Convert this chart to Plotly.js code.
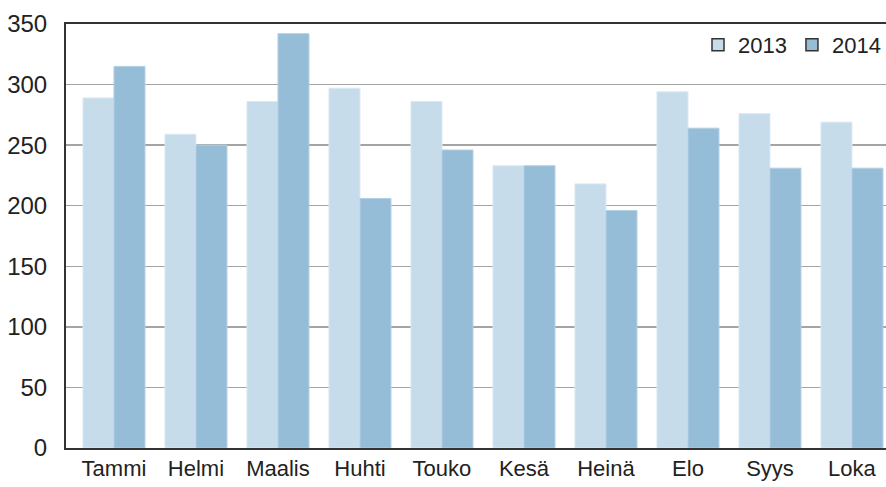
<!DOCTYPE html>
<html>
<head>
<meta charset="utf-8">
<script src="https://cdn.plot.ly/plotly-3.0.1.min.js"></script>
<style>html,body{margin:0;padding:0;background:#fff;}#chart{width:886px;height:487px;}</style>
</head>
<body>
<div id="chart"></div>
<script>
const categories = ["Tammi","Helmi","Maalis","Huhti","Touko","Kesä","Heinä","Elo","Syys","Loka"];
const values2013 = [289, 259, 286, 297, 286, 233, 218, 294, 276, 269];
const values2014 = [315, 250, 342, 206, 246, 233, 196, 264, 231, 231];
const seriesNames = ["2013", "2014"];
const yTicks = [0, 50, 100, 150, 200, 250, 300, 350];

const c2013 = "#c7dcea", c2014 = "#96bdd8";
const font = "Liberation Sans, Arial, sans-serif";

const data = [
  {type:"bar", x:categories, y:values2013, name:seriesNames[0], showlegend:false,
   marker:{color:c2013, line:{color:"#dae8f2", width:1}}, hoverinfo:"skip"},
  {type:"bar", x:categories, y:values2014, name:seriesNames[1], showlegend:false,
   marker:{color:c2014, line:{color:"#b2cfe3", width:1}}, hoverinfo:"skip"},
  {type:"bar", x:[categories[0]], y:[null], name:seriesNames[0], xaxis:"x2", yaxis:"y2",
   marker:{color:c2013, line:{color:"#333", width:1.5}}},
  {type:"bar", x:[categories[0]], y:[null], name:seriesNames[1], xaxis:"x2", yaxis:"y2",
   marker:{color:c2014, line:{color:"#333", width:1.5}}}
];

const layout = {
  width:886, height:487,
  margin:{l:66, r:0, t:24, b:39, pad:0},
  paper_bgcolor:"#fff", plot_bgcolor:"#fff",
  font:{family:font, size:24, color:"#222"},
  barmode:"group", bargap:0.244, bargroupgap:0,
  showlegend:true,
  legend:{orientation:"h", x:1, xanchor:"right", y:1, yanchor:"top",
          font:{family:font, size:22, color:"#222"}, bgcolor:"rgba(0,0,0,0)",
          traceorder:"normal"},
  xaxis:{type:"category", range:[-0.585, 9.415], showgrid:false, zeroline:false,
         showline:true, linecolor:"#333", linewidth:2, mirror:true,
         ticks:"", ticklabelstandoff:0, tickfont:{size:22, family:font, color:"#222"}},
  yaxis:{range:[0, 350], tickvals:yTicks, ticktext:yTicks.map(String),
         showgrid:true, gridcolor:"#a4a4a4", gridwidth:1.5, zeroline:false,
         showline:true, linecolor:"#333", linewidth:2,
         ticks:"", ticklabelstandoff:12, tickfont:{size:24, family:font, color:"#222"}},
  xaxis2:{overlaying:"x", visible:false, range:[0,1]},
  yaxis2:{overlaying:"y", visible:false, range:[0,1]}
};

Plotly.newPlot("chart", data, layout, {staticPlot:true, displayModeBar:false});
</script>
</body>
</html>
